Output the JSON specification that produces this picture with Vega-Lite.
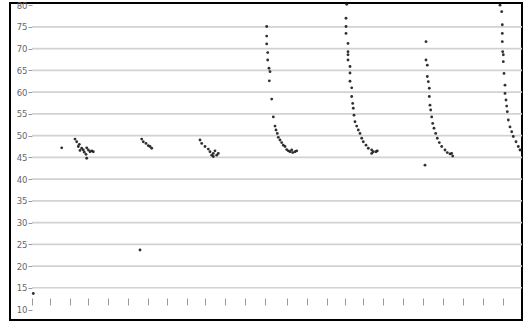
{
  "$schema": "https://vega.github.io/schema/vega-lite/v6.json",
  "width": 512,
  "height": 317,
  "autosize": "none",
  "padding": {"left": 10, "top": 3, "right": 1, "bottom": 3},
  "background": "white",
  "config": {"view": {"stroke": "#000", "strokeWidth": 2}},
  "datasets": {
    "grid": [{"v": 15}, {"v": 20}, {"v": 25}, {"v": 30}, {"v": 35}, {"v": 40}, {"v": 45}, {"v": 50}, {"v": 55}, {"v": 60}, {"v": 65}, {"v": 70}, {"v": 75}],
    "pts": [
      {"x": 33.3, "y": 13.7}, {"x": 61.7, "y": 47.2},
      {"x": 75, "y": 49.2}, {"x": 76.7, "y": 48.6}, {"x": 79.3, "y": 48.0}, {"x": 78.3, "y": 47.5}, {"x": 81.7, "y": 47.1}, {"x": 83.3, "y": 46.7}, {"x": 86.7, "y": 47.2}, {"x": 88.3, "y": 46.7}, {"x": 90, "y": 46.3}, {"x": 91.7, "y": 46.5}, {"x": 93.3, "y": 46.3}, {"x": 86, "y": 45.7}, {"x": 86.7, "y": 44.8}, {"x": 84.3, "y": 46.2}, {"x": 80, "y": 46.6},
      {"x": 141.7, "y": 49.2}, {"x": 143.3, "y": 48.6}, {"x": 146, "y": 48.2}, {"x": 148.3, "y": 47.7}, {"x": 150, "y": 47.5}, {"x": 151.7, "y": 47.1},
      {"x": 140, "y": 23.7},
      {"x": 200, "y": 49.0}, {"x": 201.7, "y": 48.2}, {"x": 205, "y": 47.5}, {"x": 208.3, "y": 46.9}, {"x": 210, "y": 46.3}, {"x": 213.3, "y": 45.9}, {"x": 215, "y": 46.5}, {"x": 216.7, "y": 45.5}, {"x": 218.3, "y": 45.9}, {"x": 211.7, "y": 45.5}, {"x": 213.3, "y": 45.2},
      {"x": 266.7, "y": 75.1}, {"x": 266.7, "y": 72.9}, {"x": 266.7, "y": 71.1}, {"x": 267.7, "y": 69.1}, {"x": 267.7, "y": 67.4}, {"x": 269, "y": 65.5}, {"x": 270, "y": 64.7}, {"x": 269.3, "y": 62.6}, {"x": 271.7, "y": 58.4}, {"x": 273.3, "y": 54.3}, {"x": 275, "y": 52.2}, {"x": 276, "y": 51.3}, {"x": 277.3, "y": 50.5}, {"x": 278.3, "y": 49.6}, {"x": 280, "y": 49.0}, {"x": 281.7, "y": 48.4}, {"x": 283.3, "y": 47.8}, {"x": 285, "y": 47.5}, {"x": 286.7, "y": 46.8}, {"x": 288.3, "y": 46.5}, {"x": 290, "y": 46.3}, {"x": 292.7, "y": 46.1}, {"x": 295, "y": 46.3}, {"x": 296.7, "y": 46.5}, {"x": 291.7, "y": 46.7},
      {"x": 346.7, "y": 80.2}, {"x": 346, "y": 77.0}, {"x": 346, "y": 75.1}, {"x": 346, "y": 73.5}, {"x": 348, "y": 71.2}, {"x": 348, "y": 69.3}, {"x": 348, "y": 68.6}, {"x": 348, "y": 67.4}, {"x": 350, "y": 65.9}, {"x": 350, "y": 64.4}, {"x": 350, "y": 62.5}, {"x": 351.7, "y": 61.0}, {"x": 351.7, "y": 59.0}, {"x": 352.7, "y": 57.4}, {"x": 353.3, "y": 56.3}, {"x": 354, "y": 54.7}, {"x": 355, "y": 53.2}, {"x": 356.7, "y": 52.2}, {"x": 358.3, "y": 51.3}, {"x": 360, "y": 50.5}, {"x": 361.7, "y": 49.4}, {"x": 363.3, "y": 48.6}, {"x": 366, "y": 47.8}, {"x": 368.3, "y": 47.1}, {"x": 371.7, "y": 46.7}, {"x": 373.3, "y": 46.3}, {"x": 376, "y": 46.3}, {"x": 377.3, "y": 46.5}, {"x": 371.7, "y": 45.9},
      {"x": 426, "y": 71.6}, {"x": 426, "y": 67.4}, {"x": 427.3, "y": 66.2}, {"x": 427.3, "y": 63.6}, {"x": 428.3, "y": 62.4}, {"x": 429.3, "y": 60.9}, {"x": 429.3, "y": 59.0}, {"x": 430, "y": 57.0}, {"x": 430.7, "y": 55.9}, {"x": 431.7, "y": 54.3}, {"x": 432.7, "y": 52.8}, {"x": 434, "y": 51.7}, {"x": 435.7, "y": 50.5}, {"x": 437.3, "y": 49.4}, {"x": 439.3, "y": 48.4}, {"x": 441.7, "y": 47.5}, {"x": 445, "y": 46.7}, {"x": 447.3, "y": 46.1}, {"x": 450, "y": 45.8}, {"x": 452.7, "y": 45.3}, {"x": 451.7, "y": 45.9}, {"x": 425, "y": 43.2},
      {"x": 500, "y": 80.0}, {"x": 501.7, "y": 78.5}, {"x": 502.3, "y": 75.5}, {"x": 502.3, "y": 73.5}, {"x": 502.3, "y": 71.6}, {"x": 502.7, "y": 69.3}, {"x": 503.3, "y": 68.6}, {"x": 503.3, "y": 67.0}, {"x": 504, "y": 64.3}, {"x": 505, "y": 61.6}, {"x": 505, "y": 59.7}, {"x": 506, "y": 58.2}, {"x": 506.7, "y": 56.8}, {"x": 507.3, "y": 55.5}, {"x": 508.3, "y": 53.6}, {"x": 510, "y": 52.0}, {"x": 511.7, "y": 50.9}, {"x": 513.3, "y": 49.8}, {"x": 516, "y": 48.6}, {"x": 518.3, "y": 47.5}, {"x": 520, "y": 46.7}, {"x": 521.7, "y": 46.7}
    ]
  },
  "layer": [
    {
      "data": {"name": "grid"},
      "mark": {"type": "rule", "color": "#d2d2d2", "strokeWidth": 1.6},
      "encoding": {
        "x": {
          "datum": 32, "type": "quantitative",
          "scale": {"domain": [10, 522], "nice": false, "zero": false},
          "axis": {
            "orient": "bottom", "offset": -22, "domain": false, "grid": false, "labels": false, "title": null,
            "tickSize": 7, "tickColor": "#999", "tickWidth": 1, "labelOverlap": false,
            "values": [32, 50, 70, 88, 108, 128, 148, 167, 187, 205, 225, 245, 265, 287, 307, 327, 345, 363, 383, 403, 423, 443, 463, 483, 503]
          }
        },
        "x2": {"datum": 522},
        "y": {
          "field": "v", "type": "quantitative",
          "scale": {"domain": [7.6, 80.5], "nice": false, "zero": false},
          "axis": {
            "orient": "left", "offset": -22, "domain": false, "grid": false, "title": null,
            "values": [10, 15, 20, 25, 30, 35, 40, 45, 50, 55, 60, 65, 70, 75, 80],
            "tickSize": 4, "tickColor": "#999", "labelPadding": 1, "labelOverlap": false, "labelFlush": false,
            "labelFont": "DejaVu Sans", "labelFontSize": 8.5, "labelColor": "#666"
          }
        }
      }
    },
    {
      "data": {"name": "pts"},
      "mark": {"type": "point", "filled": true, "size": 8, "color": "#1a1a1a", "opacity": 0.9, "clip": true},
      "encoding": {
        "x": {
          "field": "x", "type": "quantitative",
          "scale": {"domain": [10, 522], "nice": false, "zero": false},
          "axis": {
            "orient": "bottom", "offset": -22, "domain": false, "grid": false, "labels": false, "title": null,
            "tickSize": 7, "tickColor": "#999", "tickWidth": 1, "labelOverlap": false,
            "values": [32, 50, 70, 88, 108, 128, 148, 167, 187, 205, 225, 245, 265, 287, 307, 327, 345, 363, 383, 403, 423, 443, 463, 483, 503]
          }
        },
        "y": {
          "field": "y", "type": "quantitative",
          "scale": {"domain": [7.6, 80.5], "nice": false, "zero": false},
          "axis": {
            "orient": "left", "offset": -22, "domain": false, "grid": false, "title": null,
            "values": [10, 15, 20, 25, 30, 35, 40, 45, 50, 55, 60, 65, 70, 75, 80],
            "tickSize": 4, "tickColor": "#999", "labelPadding": 1, "labelOverlap": false, "labelFlush": false,
            "labelFont": "DejaVu Sans", "labelFontSize": 8.5, "labelColor": "#666"
          }
        }
      }
    }
  ]
}
